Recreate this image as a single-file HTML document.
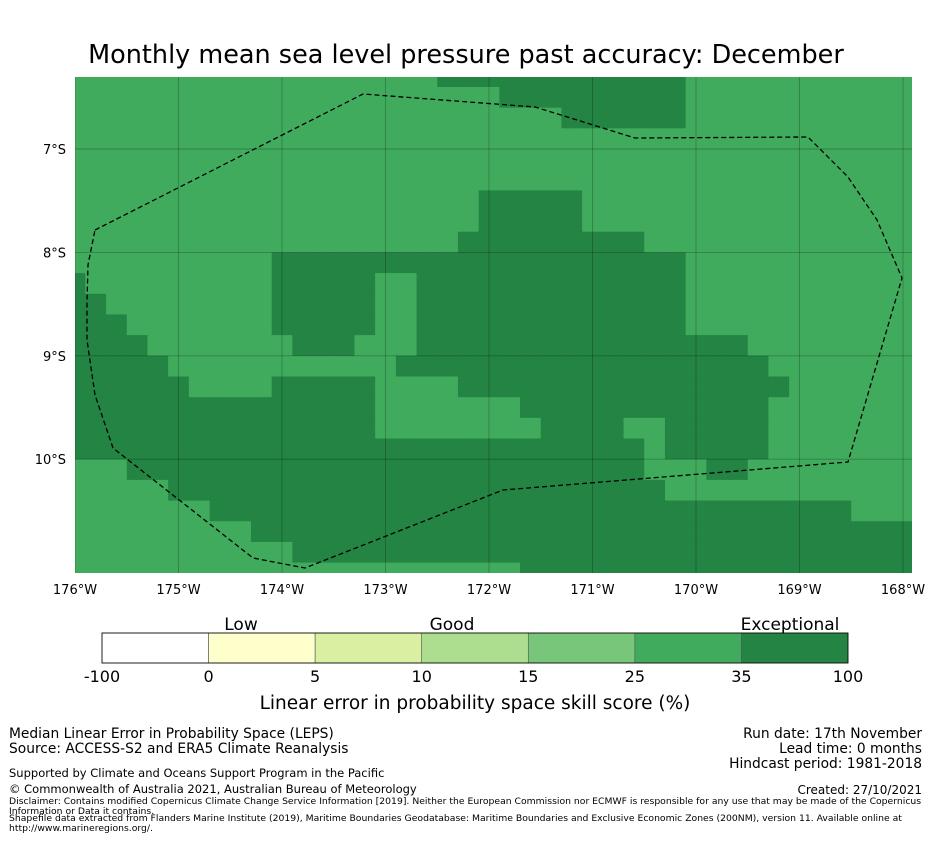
<!DOCTYPE html>
<html><head><meta charset="utf-8"><style>
body{margin:0;background:#fff;width:931px;height:839px;overflow:hidden;font-family:"Liberation Sans","DejaVu Sans",sans-serif;}
svg text{font-family:"DejaVu Sans","Liberation Sans",sans-serif;}
</style></head><body>
<svg id="chart" width="931" height="839" viewBox="0 0 931 839">
<defs><clipPath id="mapclip"><rect x="75" y="77" width="837" height="496"/></clipPath></defs>
<text x="466" y="63" font-size="25.5" text-anchor="middle" fill="#000">Monthly mean sea level pressure past accuracy: December</text>
<g id="map" clip-path="url(#mapclip)"></g>
<g id="grid" clip-path="url(#mapclip)"></g>
<path id="eez" fill="none" stroke="#000" stroke-width="1.3" stroke-dasharray="5,3"
 d="M95,230 L363,94 L535,107 L635,138 L808,137 L848,177 L877,220 L902,278 L848,462 L503,490 L305,568 L253,558 L113,448 L95,395 L87,340 L87,303 L88,265 Z"/>
<g id="xticks"></g>
<g id="yticks"></g>
<g id="colorbar"></g>
<text x="241" y="630" font-size="17" text-anchor="middle">Low</text>
<text x="452" y="630" font-size="17" text-anchor="middle">Good</text>
<text x="790" y="630" font-size="17" text-anchor="middle">Exceptional</text>
<text x="475" y="709" font-size="18.5" text-anchor="middle">Linear error in probability space skill score (%)</text>
<g font-size="13.8" fill="#000">
<text x="9" y="738">Median Linear Error in Probability Space (LEPS)</text>
<text x="9" y="753">Source: ACCESS-S2 and ERA5 Climate Reanalysis</text>
<text x="922" y="738" text-anchor="end">Run date: 17th November</text>
<text x="922" y="753" text-anchor="end">Lead time: 0 months</text>
<text x="922" y="768" text-anchor="end">Hindcast period: 1981-2018</text>
<text x="9" y="777" font-size="11.5">Supported by Climate and Oceans Support Program in the Pacific</text>
<text x="9" y="793" font-size="11.5">© Commonwealth of Australia 2021, Australian Bureau of Meteorology</text>
<text x="922" y="794" font-size="12" text-anchor="end">Created: 27/10/2021</text>
<text x="9" y="804" font-size="9.25">Disclaimer: Contains modified Copernicus Climate Change Service Information [2019]. Neither the European Commission nor ECMWF is responsible for any use that may be made of the Copernicus</text>
<text x="9" y="814" font-size="9.25">Information or Data it contains.</text>
<text x="9" y="821" font-size="9.25">Shapefile data extracted from Flanders Marine Institute (2019), Maritime Boundaries Geodatabase: Maritime Boundaries and Exclusive Economic Zones (200NM), version 11. Available online at</text>
<text x="9" y="831" font-size="9.25">http://www.marineregions.org/.</text>
</g>
</svg>
<script>
// Colorbar data
const binEdges = [-100, 0, 5, 10, 15, 25, 35, 100];
const binColors = ["#ffffff", "#ffffcc", "#d9f0a3", "#addd8e", "#78c679", "#41ab5d", "#238443"];
// Grid: cell-centre latitudes (rows) and longitudes (cols)
const lats = [];
for (let r = 0; r < 25; r++) lats.push(-6.3 - 0.2 * r);
const lons = [];
for (let c = 0; c < 41; c++) lons.push(-176.0 + 0.2 * c);
// Skill bin per cell: '5' = 25-35 (light), '6' = 35-100 (dark)
const skillRows = [
"55555555555555555566666666666655555555555",
"55555555555555555555566666666655555555555",
"55555555555555555555555566666655555555555",
"55555555555555555555555555555555555555555",
"55555555555555555555555555555555555555555",
"55555555555555555555555555555555555555555",
"55555555555555555555666665555555555555555",
"55555555555555555555666665555555555555555",
"55555555555555555556666666665555555555555",
"55555555556666666666666666666655555555555",
"65555555556666655666666666666655555555555",
"66555555556666655666666666666655555555555",
"66655555556666655666666666666655555555555",
"66665555555666555666666666666666655555555",
"66666555555555556666666666666666665555555",
"66666655556666655556666666666666666555555",
"66666666666666655555556666666666665555555",
"66666666666666655555555666655666665555555",
"66666666666666666666666666665666665555555",
"55566666666666666666666666665556655555555",
"55555666666666666666666666666555555555555",
"55555556666666666666666666666666666666555",
"55555555566666666666666666666666666666666",
"55555555555666666666666666666666666666666",
"55555555555555555555556666666666666666666"
];
const lonTicks = [-176, -175, -174, -173, -172, -171, -170, -169, -168];
const lonTickLabels = ["176°W","175°W","174°W","173°W","172°W","171°W","170°W","169°W","168°W"];
const latTicks = [-7, -8, -9, -10];
const latTickLabels = ["7°S","8°S","9°S","10°S"];

const NS = "http://www.w3.org/2000/svg";
const xOf = lon => 75 + (lon + 176) * 103.5;
const yOf = lat => 149 + (-7 - lat) * 103.4;
function mk(tag, attrs, parent) {
  const e = document.createElementNS(NS, tag);
  for (const k in attrs) e.setAttribute(k, attrs[k]);
  parent.appendChild(e);
  return e;
}
const map = document.getElementById("map");
skillRows.forEach((row, r) => {
  for (let c = 0; c < row.length; c++) {
    const bin = +row[c];
    const x0 = xOf(lons[c] - 0.1), x1 = xOf(lons[c] + 0.1);
    const y0 = yOf(lats[r] + 0.1), y1 = yOf(lats[r] - 0.1);
    const cell = mk("rect", {x: x0, y: y0, width: x1 - x0 + 0.6, height: y1 - y0 + 0.6, fill: binColors[bin]}, map);
    
    
  }
});
const grid = document.getElementById("grid");
const xt = document.getElementById("xticks");
lonTicks.forEach((lon, i) => {
  const x = xOf(lon);
  const l = mk("line", {x1: x, x2: x, y1: 77, y2: 573, stroke: "rgba(0,0,0,0.25)", "stroke-width": 0.9}, grid);
  
  
  const t = mk("text", {x: x, y: 594, "font-size": 13, "text-anchor": "middle"}, xt);
  t.textContent = lonTickLabels[i];
  
  
});
const yt = document.getElementById("yticks");
latTicks.forEach((lat, i) => {
  const y = yOf(lat);
  const l = mk("line", {x1: 75, x2: 912, y1: y, y2: y, stroke: "rgba(0,0,0,0.25)", "stroke-width": 0.9}, grid);
  
  
  const t = mk("text", {x: 66, y: y + 5, "font-size": 13, "text-anchor": "end"}, yt);
  t.textContent = latTickLabels[i];
  
  
});
const cb = document.getElementById("colorbar");
const cbX0 = 102, cbW = 746, n = binColors.length, seg = cbW / n;
binColors.forEach((col, i) => {
  const r = mk("rect", {x: cbX0 + i * seg, y: 633, width: seg, height: 30, fill: col, stroke: "#555", "stroke-width": 0.6}, cb);
  
  
});
mk("rect", {x: cbX0, y: 633, width: cbW, height: 30, fill: "none", stroke: "#000", "stroke-width": 0.8}, cb);
binEdges.forEach((v, i) => {
  const t = mk("text", {x: cbX0 + i * seg, y: 682, "font-size": 16, "text-anchor": "middle"}, cb);
  t.textContent = v;
  
  
});
</script>
</body></html>
